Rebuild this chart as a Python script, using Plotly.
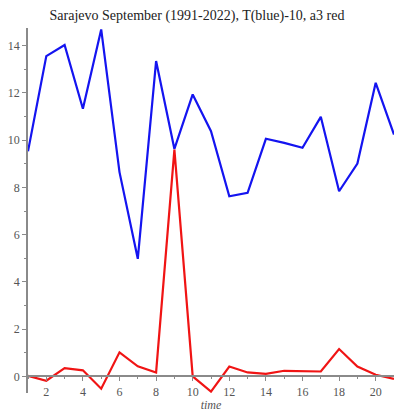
import plotly.graph_objects as go

# Years indexed by position on the time axis
time = list(range(1, 22))

# September mean temperature minus 10 (blue)
t_minus_10 = [9.53, 13.56, 14.03, 11.33, 14.69, 8.65, 4.98, 13.35, 9.63, 11.94,
              10.38, 7.63, 7.77, 10.06, 9.89, 9.68, 10.99, 7.84, 9.01, 12.43, 10.24]

# a3 series (red)
a3 = [0.03, -0.18, 0.35, 0.26, -0.52, 1.02, 0.43, 0.17, 9.6, 0.0,
      -0.64, 0.42, 0.17, 0.11, 0.24, 0.24, 0.21, 1.16, 0.42, 0.07, -0.1]

x_ticks = list(range(2, 22, 2))
y_ticks = list(range(0, 15, 2))

y_min, y_max = -0.7, 14.75
x_axis_pos = (0 - y_min) / (y_max - y_min)

serif = "Liberation Serif, Times New Roman, serif"
axis_grey = "#8a8a8a"

fig = go.Figure()
fig.add_trace(go.Scatter(x=time, y=t_minus_10, mode="lines",
                         line=dict(color="#1414f0", width=2.2), showlegend=False))
fig.add_trace(go.Scatter(x=time, y=a3, mode="lines",
                         line=dict(color="#f01414", width=2.2), showlegend=False))

fig.update_layout(
    width=394, height=414,
    margin=dict(l=28, r=0, t=28, b=21),
    paper_bgcolor="white", plot_bgcolor="white",
    title=dict(text="Sarajevo September (1991-2022), T(blue)-10, a3 red",
               x=0.5, xanchor="center", y=1 - 15 / 414, yanchor="middle",
               font=dict(family=serif, size=14, color="#222")),
    xaxis=dict(range=[1, 21], tickvals=x_ticks, showgrid=False, zeroline=False,
               showline=True, linecolor=axis_grey, linewidth=1.5,
               anchor="free", position=x_axis_pos,
               ticks="outside", ticklen=4, tickcolor=axis_grey,
               minor=dict(dtick=1, tick0=1, ticks="outside", ticklen=2, tickcolor=axis_grey),
               tickfont=dict(family=serif, size=12, color="#555"),
               title=dict(text="<i>time</i>", standoff=2,
                          font=dict(family=serif, size=12, color="#555"))),
    yaxis=dict(range=[y_min, y_max], tickvals=y_ticks, showgrid=False, zeroline=False,
               showline=True, linecolor=axis_grey, linewidth=1.5,
               ticks="outside", ticklen=4, tickcolor=axis_grey,
               minor=dict(dtick=1, tick0=0, ticks="outside", ticklen=2, tickcolor=axis_grey),
               tickfont=dict(family=serif, size=12, color="#555")),
)

fig.write_html("out.html")
